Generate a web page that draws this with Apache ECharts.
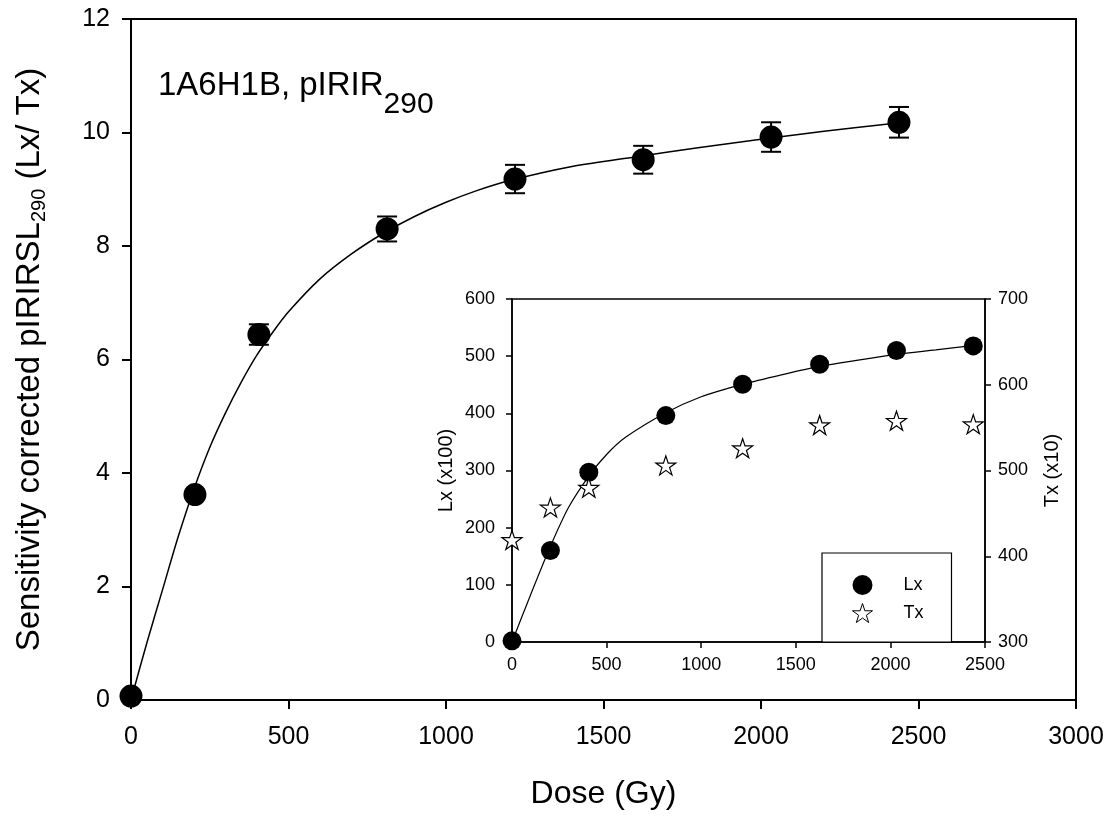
<!DOCTYPE html>
<html lang="en">
<head>
    <meta charset="UTF-8">
    <title>pIRIR290 dose response</title>
    <script src="https://cdn.jsdelivr.net/npm/echarts@6/dist/echarts.min.js"></script>
    <style>
        * { margin: 0; padding: 0 }
        html, body { width: 100%; height: 100%; background: #fff }
        #main { width: 1111px; height: 816px }
    </style>
</head>
<body>
    <div id="main"></div>
    <script type="text/javascript">
        // doses (Gy) shared by main plot and inset
        var doses = [0, 203, 406, 813, 1219, 1626, 2032, 2438];
        // sensitivity corrected Lx/Tx and its error
        var ratio = [0.07, 3.62, 6.44, 8.30, 9.18, 9.52, 9.92, 10.18];
        var ratioErr = [0, 0, 0.18, 0.22, 0.25, 0.245, 0.26, 0.27];
        // fitted curve
        var fitDose = [0, 50, 100, 150, 200, 250, 300, 350, 400, 450, 500, 600, 700, 800, 900, 1000, 1100, 1200, 1400, 1600, 1800, 2000, 2200, 2440];
        var fitRatio = [0, 1.0, 1.94, 2.88, 3.72, 4.45, 5.06, 5.6, 6.08, 6.48, 6.84, 7.42, 7.86, 8.22, 8.52, 8.77, 8.98, 9.15, 9.40, 9.57, 9.73, 9.88, 10.02, 10.17];
        // inset: Lx (x100) and Tx (x10)
        var lx = [2, 160, 297, 396, 451, 486, 510, 518];
        var tx = [419, 457, 480, 506, 526, 553, 558, 554];
        var lxFitDose = [0, 100, 200, 300, 410, 500, 600, 813, 1000, 1222, 1420, 1626, 1830, 2031, 2240, 2445];
        var lxFit = [0, 84, 165, 236, 292, 328, 358, 401, 429, 451, 467, 482, 493, 503, 511, 519];

        var STAR = 'path://M50 0L61.23 34.55L97.55 34.55L68.17 55.9L79.39 90.45L50 69.1L20.61 90.45L31.83 55.9L2.45 34.55L38.77 34.55Z';
        var FONT = 'Liberation Sans';

        function pairs(xs, ys) {
            return xs.map(function (x, i) { return [x, ys[i]] });
        }
        function plain(v) { return String(v) }

        var myChart = echarts.init(document.getElementById('main'));

        var mainAxis = {
            axisLine: { lineStyle: { color: '#000', width: 2 } },
            axisTick: { inside: false, length: 9, lineStyle: { color: '#000', width: 2 } },
            axisLabel: { color: '#000', fontSize: 25, fontFamily: FONT, formatter: plain },
            splitLine: { show: false }
        };
        var insetAxis = {
            axisLine: { lineStyle: { color: '#000', width: 1.5 } },
            axisTick: { inside: false, length: 6, lineStyle: { color: '#000', width: 1.5 } },
            axisLabel: { color: '#000', fontSize: 18, fontFamily: FONT, formatter: plain },
            splitLine: { show: false },
            nameLocation: 'middle',
            nameRotate: 90,
            nameTextStyle: { color: '#000', fontSize: 20, fontFamily: FONT }
        };

        var option = {
            animation: false,
            backgroundColor: '#fff',
            grid: [
                { left: 131, right: 35, top: 19, bottom: 116, show: true, borderColor: '#000', borderWidth: 2 },
                { left: 512, right: 126, top: 299, bottom: 174, show: true, borderColor: '#000', borderWidth: 1.5, backgroundColor: '#fff' }
            ],
            xAxis: [
                Object.assign({}, mainAxis, {
                    type: 'value', gridIndex: 0, min: 0, max: 3000, interval: 500,
                    axisLabel: Object.assign({}, mainAxis.axisLabel, { margin: 25 }),
                    name: 'Dose (Gy)', nameLocation: 'middle', nameGap: 78,
                    nameTextStyle: { color: '#000', fontSize: 32, fontFamily: FONT }
                }),
                Object.assign({}, insetAxis, {
                    type: 'value', gridIndex: 1, min: 0, max: 2500, interval: 500,
                    axisLabel: Object.assign({}, insetAxis.axisLabel, { margin: 14 }),
                    name: '', nameRotate: 0
                })
            ],
            yAxis: [
                Object.assign({}, mainAxis, {
                    type: 'value', gridIndex: 0, min: 0, max: 12, interval: 2,
                    axisLabel: Object.assign({}, mainAxis.axisLabel, { margin: 21 }),
                    name: '{n|Sensitivity corrected pIRIRSL}{s|290}{n| (Lx/ Tx)}',
                    nameLocation: 'middle', nameRotate: 90, nameGap: 82,
                    nameTextStyle: {
                        color: '#000', fontFamily: FONT,
                        rich: {
                            n: { fontSize: 33, fontFamily: FONT, color: '#000', lineHeight: 38 },
                            s: { fontSize: 20, fontFamily: FONT, color: '#000', verticalAlign: 'bottom' }
                        }
                    }
                }),
                Object.assign({}, insetAxis, {
                    type: 'value', gridIndex: 1, min: 0, max: 600, interval: 100, position: 'left',
                    axisLabel: Object.assign({}, insetAxis.axisLabel, { margin: 17 }),
                    name: 'Lx (x100)', nameGap: 56
                }),
                Object.assign({}, insetAxis, {
                    type: 'value', gridIndex: 1, min: 300, max: 700, interval: 100, position: 'right',
                    axisLabel: Object.assign({}, insetAxis.axisLabel, { margin: 13 }),
                    name: 'Tx (x10)', nameGap: 57
                })
            ],
            legend: {
                left: 822, top: 553,
                orient: 'vertical',
                padding: [22, 28, 19, 30],
                itemGap: 8,
                itemWidth: 20, itemHeight: 20,
                itemStyle: { borderWidth: 1 },
                borderColor: '#000', borderWidth: 1.2,
                backgroundColor: '#fff',
                selectedMode: false,
                textStyle: { color: '#000', fontSize: 18, fontFamily: FONT, padding: [0, 0, 0, 26] },
                data: [{ name: 'Lx', icon: 'circle' }, { name: 'Tx', icon: STAR }]
            },
            graphic: [{
                type: 'text', left: 158, top: 69,
                style: {
                    text: '{n|1A6H1B, pIRIR}{s|290}',
                    fill: '#000',
                    rich: {
                        n: { fontSize: 33, fontFamily: FONT, fill: '#000', lineHeight: 68 },
                        s: { fontSize: 30, fontFamily: FONT, fill: '#000', verticalAlign: 'bottom' }
                    }
                }
            }],
            series: [
                {
                    type: 'line', xAxisIndex: 0, yAxisIndex: 0,
                    data: pairs(fitDose, fitRatio),
                    smooth: 0.3, showSymbol: false, symbol: 'none',
                    lineStyle: { color: '#000', width: 1.5 },
                    z: 2
                },
                {
                    type: 'custom', xAxisIndex: 0, yAxisIndex: 0,
                    data: doses.map(function (d, i) { return [d, ratio[i] - ratioErr[i], ratio[i] + ratioErr[i]] }),
                    renderItem: function (params, api) {
                        var lo = api.coord([api.value(0), api.value(1)]);
                        var hi = api.coord([api.value(0), api.value(2)]);
                        if (hi[1] >= lo[1]) return;
                        var w = 10;
                        var st = { stroke: '#000', lineWidth: 2 };
                        return {
                            type: 'group',
                            children: [
                                { type: 'line', shape: { x1: lo[0], y1: lo[1], x2: hi[0], y2: hi[1] }, style: st },
                                { type: 'line', shape: { x1: lo[0] - w, y1: lo[1], x2: lo[0] + w, y2: lo[1] }, style: st },
                                { type: 'line', shape: { x1: hi[0] - w, y1: hi[1], x2: hi[0] + w, y2: hi[1] }, style: st }
                            ]
                        };
                    },
                    z: 3
                },
                {
                    type: 'scatter', xAxisIndex: 0, yAxisIndex: 0,
                    data: pairs(doses, ratio),
                    symbol: 'circle', symbolSize: 23,
                    itemStyle: { color: '#000', opacity: 1 },
                    z: 4
                },
                {
                    type: 'line', xAxisIndex: 1, yAxisIndex: 1,
                    data: pairs(lxFitDose, lxFit),
                    smooth: 0.3, showSymbol: false, symbol: 'none',
                    lineStyle: { color: '#000', width: 1.2 },
                    z: 2
                },
                {
                    name: 'Lx', type: 'scatter', xAxisIndex: 1, yAxisIndex: 1,
                    data: pairs(doses, lx),
                    symbol: 'circle', symbolSize: 19,
                    itemStyle: { color: '#000', opacity: 1 },
                    z: 4
                },
                {
                    name: 'Tx', type: 'scatter', xAxisIndex: 1, yAxisIndex: 2,
                    data: pairs(doses, tx),
                    symbol: STAR, symbolSize: 20, symbolKeepAspect: true,
                    itemStyle: { color: '#fff', borderColor: '#000', borderWidth: 1.2, opacity: 1 },
                    z: 4
                }
            ]
        };
        myChart.setOption(option);
    </script>
</body>
</html>
